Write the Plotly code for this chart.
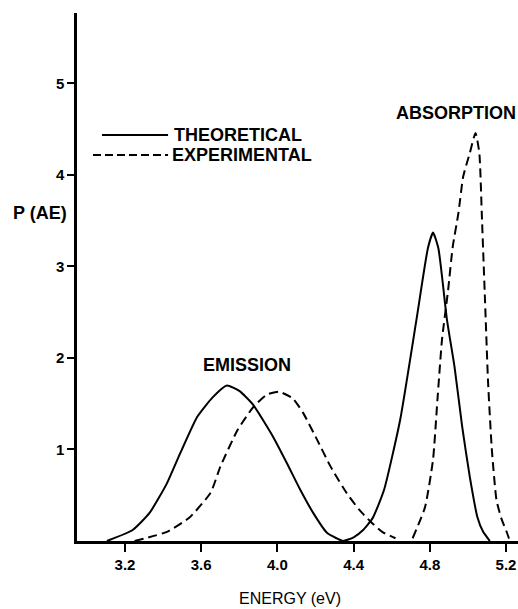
import plotly.graph_objects as go

# Data
x_ticks = [3.2, 3.6, 4.0, 4.4, 4.8, 5.2]
x_ticktext = ["3.2", "3.6", "4.0", "4.4", "4.8", "5.2"]
y_ticks = [1, 2, 3, 4, 5]
y_ticktext = ["1", "2", "3", "4", "5"]

theo_E = [3.105, 3.24, 3.33, 3.42, 3.49, 3.58, 3.66, 3.735, 3.80, 3.872, 3.977, 4.05,
          4.12, 4.187, 4.26, 4.31, 4.345, 4.40, 4.45, 4.50, 4.56, 4.644, 4.73, 4.79,
          4.817, 4.845, 4.89, 4.93, 4.97, 5.01, 5.05, 5.08, 5.115]
theo_P = [0.0, 0.12, 0.31, 0.63, 0.96, 1.36, 1.57, 1.70, 1.64, 1.49, 1.14, 0.85,
          0.56, 0.31, 0.09, 0.03, 0.0, 0.04, 0.12, 0.25, 0.56, 1.32, 2.42, 3.20,
          3.37, 3.20, 2.42, 1.90, 1.25, 0.70, 0.26, 0.10, 0.0]

exp_em_E = [3.25, 3.42, 3.54, 3.65, 3.70, 3.79, 3.872, 3.945, 4.01, 4.08, 4.135,
            4.21, 4.28, 4.365, 4.43, 4.49, 4.55, 4.62]
exp_em_P = [0.0, 0.10, 0.26, 0.53, 0.81, 1.21, 1.46, 1.60, 1.63, 1.56, 1.40,
            1.10, 0.81, 0.52, 0.34, 0.21, 0.10, 0.03]

exp_ab_E = [4.71, 4.775, 4.817, 4.84, 4.864, 4.896, 4.92, 4.95, 4.975, 5.01, 5.04,
            5.06, 5.074, 5.09, 5.106, 5.126, 5.15, 5.175, 5.205, 5.22]
exp_ab_P = [0.03, 0.37, 0.89, 1.54, 2.20, 2.74, 3.21, 3.58, 3.98, 4.24, 4.46,
            4.24, 3.51, 2.62, 1.73, 0.99, 0.45, 0.25, 0.09, 0.0]

FONT = "Liberation Sans, Arial, sans-serif"

fig = go.Figure()
fig.add_trace(go.Scatter(x=theo_E, y=theo_P, mode="lines",
                         line=dict(color="black", width=2, shape="spline", smoothing=0.5),
                         name="THEORETICAL", showlegend=False))
fig.add_trace(go.Scatter(x=exp_em_E, y=exp_em_P, mode="lines",
                         line=dict(color="black", width=2, dash="9px,5px", shape="spline", smoothing=0.5),
                         name="EXPERIMENTAL", showlegend=False))
fig.add_trace(go.Scatter(x=exp_ab_E, y=exp_ab_P, mode="lines",
                         line=dict(color="black", width=2, dash="9px,5px", shape="spline", smoothing=0.5),
                         name="EXPERIMENTAL", showlegend=False))

# legend drawn by hand
fig.add_shape(type="line", x0=3.079, x1=3.426, y0=4.437, y1=4.437,
              line=dict(color="black", width=2))
fig.add_shape(type="line", x0=3.032, x1=3.426, y0=4.219, y1=4.219,
              line=dict(color="black", width=2, dash="8px,4px"))

bold = dict(family=FONT, size=18, color="black", weight="bold")
fig.add_annotation(x=3.445, y=4.437, text="THEORETICAL", showarrow=False,
                   xanchor="left", yanchor="middle", font=bold)
fig.add_annotation(x=3.435, y=4.219, text="EXPERIMENTAL", showarrow=False,
                   xanchor="left", yanchor="middle", font=bold)
fig.add_annotation(x=4.937, y=4.68, text="ABSORPTION", showarrow=False,
                   xanchor="center", yanchor="middle", font=bold)
fig.add_annotation(x=3.84, y=1.92, text="EMISSION", showarrow=False,
                   xanchor="center", yanchor="middle", font=bold)
fig.add_annotation(x=2.948, y=3.585, text="P (AE)", showarrow=False,
                   xanchor="right", yanchor="middle", xshift=-8, font=bold)
fig.add_annotation(x=4.066, y=0, yref="paper", text="ENERGY (eV)", showarrow=False,
                   xanchor="center", yanchor="middle", yshift=-57,
                   font=dict(family=FONT, size=16, color="black"))

fig.update_layout(
    width=518, height=609,
    margin=dict(l=77, r=0, t=13, b=68),
    paper_bgcolor="white", plot_bgcolor="white",
    showlegend=False,
    xaxis=dict(range=[2.948, 5.263], tickvals=x_ticks, ticktext=x_ticktext,
               showline=True, linecolor="black", linewidth=2.5,
               ticks="outside", ticklen=8, tickwidth=2, tickcolor="black",
               showgrid=False, zeroline=False, ticklabeloverflow="allow",
               tickfont=dict(family=FONT, size=15, color="black", weight="bold")),
    yaxis=dict(range=[0, 5.77], tickvals=y_ticks, ticktext=y_ticktext,
               showline=True, linecolor="black", linewidth=2.5,
               ticks="outside", ticklen=7, tickwidth=2, tickcolor="black",
               showgrid=False, zeroline=False,
               tickfont=dict(family=FONT, size=15, color="black", weight="bold")),
)

fig.write_html("out.html", config={"displayModeBar": False},
               post_script="document.body.style.margin='0';document.body.style.overflow='hidden';")
